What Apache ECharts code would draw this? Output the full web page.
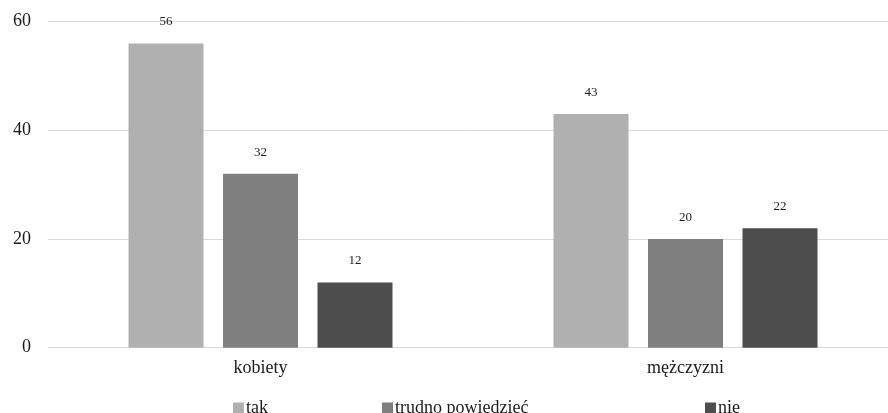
<!DOCTYPE html>
<html>
<head>
<meta charset="utf-8">
<script src="https://cdn.jsdelivr.net/npm/echarts@6/dist/echarts.min.js"></script>
<style>
  html, body { margin: 0; padding: 0; background: #fff; }
  #chart { width: 888px; height: 413px; }
</style>
</head>
<body>
<div id="chart"></div>
<script>
// Answers by gender
const categories = ['kobiety', 'mężczyzni'];
const seriesNames = ['tak', 'trudno powiedzieć', 'nie'];
const tak = [56, 43];
const trudno = [32, 20];
const nie = [12, 22];
const yTicks = [0, 20, 40, 60];

const colors = ['#b0b0b0', '#7f7f7f', '#4d4d4d'];
const font = 'Liberation Serif';
const values = [tak, trudno, nie];

const chart = echarts.init(document.getElementById('chart'));

const legendLefts = [228, 377, 700];

chart.setOption({
  animation: false,
  textStyle: { fontFamily: font },
  grid: {
    left: 48, width: 850, top: 21.7, bottom: 65.3,
    containLabel: false, outerBoundsMode: 'none'
  },
  legend: seriesNames.map((n, i) => ({
    data: [n],
    left: legendLefts[i],
    top: 394,
    icon: 'rect',
    itemWidth: 11,
    itemHeight: 11,
    itemGap: 5,
    textStyle: { fontFamily: font, fontSize: 18, color: '#1a1a1a', padding: [0, 0, 0, -3] }
  })),
  xAxis: {
    type: 'category',
    data: categories,
    axisLine: { lineStyle: { color: '#d9d9d9', width: 1 } },
    axisTick: { show: false },
    axisLabel: { fontFamily: font, fontSize: 18, color: '#1a1a1a', margin: 12 }
  },
  yAxis: {
    type: 'value',
    min: yTicks[0],
    max: yTicks[yTicks.length - 1],
    interval: 20,
    axisLine: { show: false },
    axisTick: { show: false },
    splitLine: { lineStyle: { color: '#d9d9d9', width: 1 } },
    axisLabel: { fontFamily: font, fontSize: 18, color: '#1a1a1a', margin: 17 }
  },
  series: seriesNames.map((n, i) => ({
    name: n,
    type: 'bar',
    data: values[i],
    barWidth: 75,
    barGap: '26%',
    itemStyle: { color: colors[i] },
    label: {
      show: true,
      position: 'top',
      distance: 15,
      fontFamily: font,
      fontSize: 13,
      color: '#1a1a1a'
    }
  }))
});
</script>
</body>
</html>
